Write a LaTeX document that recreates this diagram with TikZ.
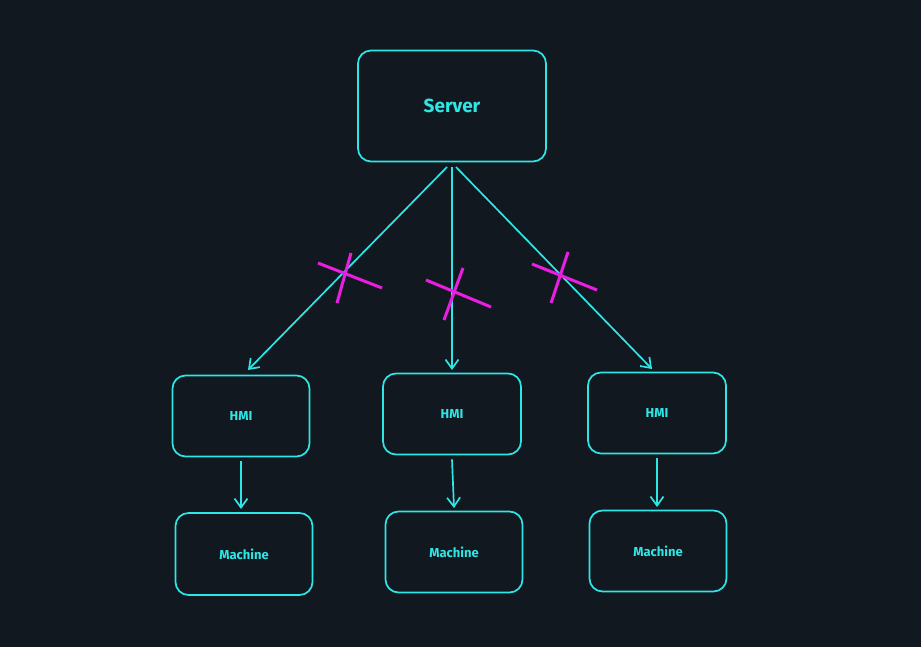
\documentclass[tikz,border=0pt]{standalone}
\usepackage{fontspec}
\setmainfont{Fira Sans}
\usetikzlibrary{arrows.meta}
\definecolor{bg}{HTML}{121820}
\definecolor{cy}{HTML}{2EE6E6}
\definecolor{mg}{HTML}{E81EE0}
\begin{document}
\begin{tikzpicture}[x=1pt,y=-1pt,
  box/.style={draw=cy,line width=1.7pt,rounded corners=13pt,text=cy,font=\bfseries\fontsize{13}{15}\selectfont},
  arr/.style={draw=cy,line width=1.7pt,-{Straight Barb[length=9pt,width=13pt]}},
  cross/.style={draw=mg,line width=3pt}]
\fill[bg] (0,0) rectangle (921,647);
\useasboundingbox (0,0) rectangle (921,647);
\node[box,minimum width=188pt,minimum height=111pt,font=\bfseries\fontsize{19}{22}\selectfont] (srv) at (452,106) {Server};
\node[box,minimum width=137pt,minimum height=81pt] (h1) at (241,416) {HMI};
\node[box,minimum width=138pt,minimum height=81pt] (h2) at (452,414) {HMI};
\node[box,minimum width=138pt,minimum height=81pt] (h3) at (657,413) {HMI};
\node[box,minimum width=137pt,minimum height=82pt] (m1) at (244,554) {Machine};
\node[box,minimum width=137pt,minimum height=81pt] (m2) at (454,552) {Machine};
\node[box,minimum width=137pt,minimum height=81pt] (m3) at (658,551) {Machine};
\coordinate (s1) at (447,167);
\coordinate (s2) at (452,167);
\coordinate (s3) at (456,167);
\draw[arr] (s1) -- (248,370);
\draw[arr] (s2) -- (452,370);
\draw[arr] (s3) -- (652,369);
\draw[arr] (h1.south) ++(0,4) -- (241,509);
\draw[arr] (h2.south) ++(0,4) -- (454,508);
\draw[arr] (h3.south) ++(0,4) -- (657,507);
\draw[cross] (318,263) -- (382,288) (351,253) -- (337,303);
\draw[cross] (426,280) -- (491,307) (463,268) -- (444,320);
\draw[cross] (532,264) -- (597,290) (568,252) -- (551,303);
\end{tikzpicture}
\end{document}
